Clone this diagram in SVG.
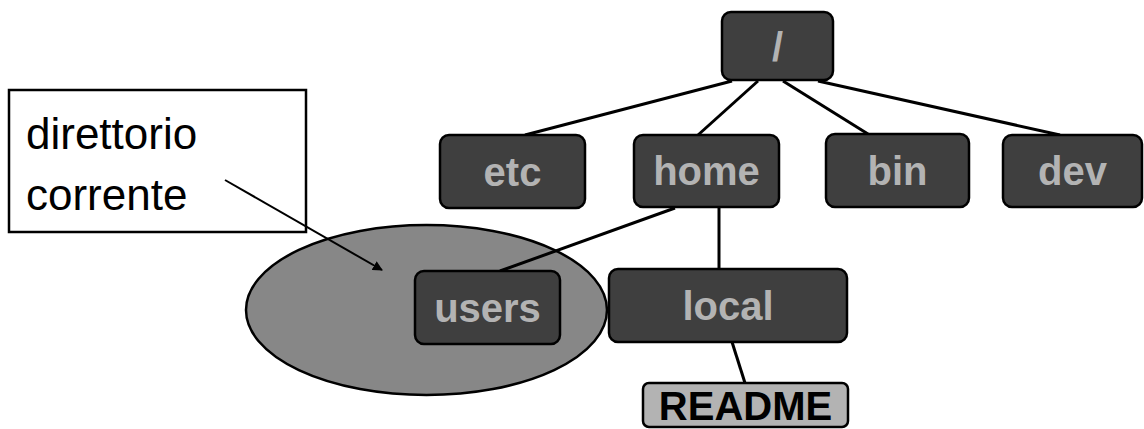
<svg xmlns="http://www.w3.org/2000/svg" width="1144" height="429" viewBox="0 0 1144 429">
<style>
.box{fill:#3f3f3f;stroke:#000;stroke-width:2.5}
.lbl{font-family:"Liberation Sans",Arial,sans-serif;font-weight:bold;font-size:40px;fill:#b3b3b3;text-anchor:middle}
.conn{stroke:#000;stroke-width:3;fill:none}
.note{font-family:"Liberation Sans",Arial,sans-serif;font-size:44px;fill:#000}
</style>
<defs>
<marker id="ah" viewBox="0 0 10 10" refX="9" refY="5" markerWidth="10" markerHeight="10" markerUnits="userSpaceOnUse" orient="auto">
<path d="M0,0 L10,5 L0,10 z" fill="#000"/>
</marker>
</defs>
<ellipse id="current-dir" cx="426.5" cy="310" rx="180.5" ry="85" fill="#878787" stroke="#000" stroke-width="2.5"/>
<g id="connectors">
<line class="conn" x1="732" y1="81" x2="525" y2="135"/>
<line class="conn" x1="758" y1="81" x2="698" y2="135"/>
<line class="conn" x1="783" y1="81" x2="868" y2="134"/>
<line class="conn" x1="818" y1="81" x2="1060" y2="135"/>
<line class="conn" x1="675" y1="208" x2="500" y2="271"/>
<line class="conn" x1="719" y1="208" x2="719" y2="269"/>
<line class="conn" x1="732" y1="342" x2="745" y2="383"/>
</g>
<g id="root"><rect class="box" x="722" y="12" width="111" height="68" rx="9"/><text class="lbl" x="777.5" y="61">/</text></g>
<g id="etc"><rect class="box" x="440" y="135" width="145" height="73" rx="9"/><text class="lbl" x="512.5" y="186">etc</text></g>
<g id="home"><rect class="box" x="634" y="135" width="145" height="72" rx="9"/><text class="lbl" x="706.5" y="185">home</text></g>
<g id="bin"><rect class="box" x="826" y="134" width="143" height="73" rx="9"/><text class="lbl" x="897.5" y="185">bin</text></g>
<g id="dev"><rect class="box" x="1003" y="135" width="139" height="72" rx="9"/><text class="lbl" x="1072.5" y="185">dev</text></g>
<g id="users"><rect class="box" x="415" y="271" width="145" height="73" rx="9"/><text class="lbl" x="487.5" y="322">users</text></g>
<g id="local"><rect class="box" x="609" y="269" width="238" height="73" rx="9"/><text class="lbl" x="728" y="320">local</text></g>
<g id="readme"><rect x="643" y="383" width="205" height="44" rx="6" fill="#b3b3b3" stroke="#000" stroke-width="2.5"/><text class="lbl" x="745.5" y="420" style="fill:#000">README</text></g>
<g id="note">
<rect x="9" y="90" width="297" height="142" fill="#fff" stroke="#000" stroke-width="2.5"/>
<text class="note" x="26" y="149">direttorio</text>
<text class="note" x="26" y="210">corrente</text>
</g>
<g id="note-arrow">
<line x1="225" y1="180" x2="382" y2="270" stroke="#000" stroke-width="2" marker-end="url(#ah)"/>
</g>
</svg>
